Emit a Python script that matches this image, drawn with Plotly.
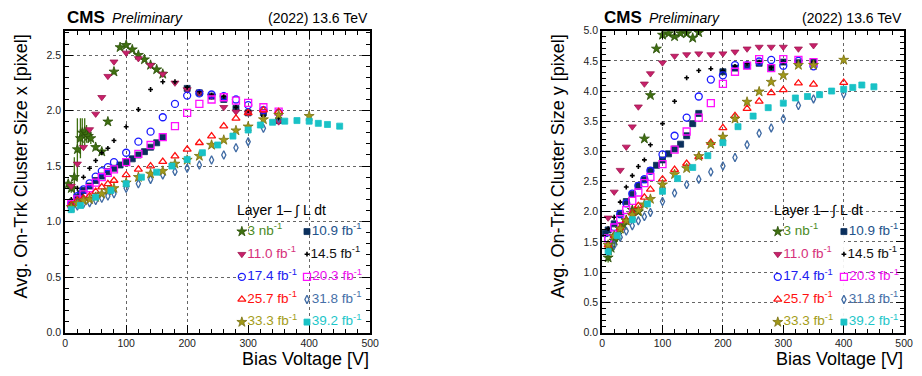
import plotly.graph_objects as go

# ---------------- data ----------------
V_STD = [10, 20, 30, 40, 50, 60, 70, 80, 100, 120, 140, 160, 180, 200, 220, 240, 260, 280, 300, 325, 350]
V_STD400 = V_STD + [400]
V_39 = [10, 25, 50, 75, 100, 125, 150, 175, 200, 225, 250, 275, 300, 320, 340, 360, 380, 400, 415, 430, 450]

# Left panel: cluster size x
V_3NB_X = [5, 10, 15, 20, 25, 28, 32, 35, 38, 42, 50, 60, 70, 80, 90, 100, 110, 120, 130, 140, 150, 160]
SX_3NB = [1.34, 1.30, 1.40, 1.65, 1.75, 1.80, 1.81, 1.79, 1.77, 1.75, 1.67, 1.63, 1.90, 2.35, 2.57, 2.59, 2.55, 2.50, 2.46, 2.41, 2.37, 2.33]
EX_3NB = [0.03, 0.04, 0.18, 0.28, 0.18, 0.13, 0.12, 0.08, 0.06, 0.05, 0.03, 0.03, 0.02, 0.02, 0.02, 0.02, 0.02, 0.02, 0.02, 0.02, 0.02, 0.02]
V_109 = [10, 20, 25, 30, 40, 50, 60, 70, 80, 90, 100, 110, 120, 130, 140, 150, 160, 200, 220, 240, 260, 280, 300, 325, 350]
SX_109 = [1.15, 1.22, 1.25, 1.28, 1.32, 1.37, 1.41, 1.45, 1.48, 1.51, 1.54, 1.565, 1.60, 1.63, 1.67, 1.71, 1.76, 2.20, 2.16, 2.13, 2.10, 2.02, 1.98, 1.98, 1.91]
SX_110 = [1.32, 1.52, 1.67, 1.83, 1.97, 2.12, 2.31, 2.44, 2.52, 2.47, 2.41, 2.33, 2.25, 2.19, 2.16, 2.13, 2.03, 1.99, 1.98, 1.99, 1.90]
SX_145 = [1.20, 1.30, 1.40, 1.48, 1.55, 1.62, 1.66, 1.73, 1.855, 2.01, 2.19, 2.26, 2.26, 2.21, 2.17, 2.14, 2.13, 2.03, 2.00, 1.95, 1.93]
SX_174 = [1.16, 1.23, 1.29, 1.345, 1.405, 1.455, 1.49, 1.535, 1.62, 1.72, 1.81, 1.94, 2.06, 2.135, 2.155, 2.145, 2.13, 2.10, 2.05, 2.005, 1.98]
SX_203 = [1.157, 1.20, 1.245, 1.30, 1.35, 1.40, 1.44, 1.47, 1.535, 1.61, 1.69, 1.76, 1.86, 1.98, 2.06, 2.10, 2.12, 2.09, 2.07, 2.03, 1.99]
SX_257 = [1.15, 1.19, 1.21, 1.23, 1.27, 1.31, 1.34, 1.37, 1.42, 1.47, 1.50, 1.54, 1.59, 1.65, 1.71, 1.77, 1.86, 1.93, 1.98, 2.005, 1.99]
SX_318 = [1.12, 1.14, 1.16, 1.17, 1.19, 1.21, 1.23, 1.25, 1.30, 1.34, 1.38, 1.42, 1.45, 1.48, 1.51, 1.555, 1.60, 1.665, 1.72, 1.84, 1.93]
SX_333 = [1.13, 1.165, 1.19, 1.20, 1.22, 1.25, 1.28, 1.30, 1.35, 1.40, 1.43, 1.455, 1.52, 1.555, 1.59, 1.69, 1.735, 1.82, 1.855, 1.92, 1.96, 1.95]
SX_392 = [1.107, 1.145, 1.22, 1.28, 1.34, 1.40, 1.445, 1.50, 1.56, 1.62, 1.69, 1.77, 1.825, 1.87, 1.895, 1.905, 1.91, 1.905, 1.885, 1.875, 1.86]

# Right panel: cluster size y
V_3NB_Y = [10, 15, 20, 25, 30, 35, 40, 50, 60, 70, 80, 90, 100, 110, 120, 130, 140, 150, 160]
SY_3NB = [1.24, 1.40, 1.52, 1.62, 1.72, 1.78, 1.86, 2.03, 2.00, 3.21, 3.93, 4.70, 4.93, 4.955, 4.905, 4.955, 4.955, 4.88, 4.97]
EY_3NB = [0.08, 0.12, 0.15, 0.12, 0.10, 0.08, 0.05, 0.03, 0.03, 0.03, 0.03, 0.03, 0.03, 0.03, 0.03, 0.03, 0.03, 0.03, 0.03]
V_109Y = [5, 10, 20, 30, 40, 50, 60, 70, 80, 90, 100, 110, 120, 130, 140, 150, 160, 200, 220, 240, 260, 280, 300, 325, 350]
SY_109 = [1.64, 1.70, 1.80, 1.975, 2.17, 2.29, 2.43, 2.53, 2.68, 2.77, 2.86, 2.96, 3.04, 3.12, 3.26, 3.46, 3.63, 4.32, 4.38, 4.42, 4.46, 4.39, 4.48, 4.47, 4.48]
SY_110 = [1.90, 2.33, 2.69, 3.075, 3.41, 3.74, 4.12, 4.29, 4.47, 4.58, 4.605, 4.62, 4.605, 4.62, 4.65, 4.70, 4.73, 4.73, 4.73, 4.70, 4.755]
SY_145 = [1.72, 1.91, 2.16, 2.41, 2.60, 2.75, 2.86, 3.11, 3.46, 3.83, 4.22, 4.34, 4.37, 4.34, 4.41, 4.46, 4.48, 4.39, 4.48, 4.47, 4.48]
SY_174 = [1.55, 1.75, 1.96, 2.14, 2.30, 2.43, 2.54, 2.68, 2.95, 3.26, 3.56, 3.91, 4.19, 4.26, 4.43, 4.43, 4.49, 4.515, 4.42, 4.50, 4.41]
SY_203 = [1.56, 1.74, 1.88, 2.03, 2.18, 2.32, 2.475, 2.58, 2.79, 3.03, 3.33, 3.56, 3.80, 4.12, 4.32, 4.42, 4.53, 4.38, 4.53, 4.515, 4.48]
SY_257 = [1.45, 1.60, 1.73, 1.86, 1.98, 2.10, 2.24, 2.37, 2.54, 2.70, 2.80, 2.91, 3.145, 3.39, 3.59, 3.71, 3.83, 3.97, 4.02, 4.13, 4.11, 4.14]
SY_318 = [1.35, 1.45, 1.58, 1.68, 1.77, 1.85, 1.92, 1.99, 2.17, 2.31, 2.45, 2.54, 2.66, 2.76, 2.90, 3.11, 3.30, 3.39, 3.54, 3.76, 3.87, 3.95]
SY_333 = [1.45, 1.60, 1.72, 1.85, 1.95, 2.02, 2.12, 2.21, 2.45, 2.62, 2.72, 2.92, 3.12, 3.24, 3.54, 3.82, 3.99, 4.15, 4.26, 4.43, 4.43, 4.515]
SY_392 = [1.34, 1.605, 1.87, 2.13, 2.34, 2.55, 2.735, 2.93, 3.145, 3.41, 3.585, 3.725, 3.80, 3.885, 3.91, 3.94, 4.00, 4.03, 4.06, 4.10, 4.07]

# legend layout: 2 columns x 5 rows (keys in reading order)
LEG_COL1 = ["3 nb", "11.0 fb", "17.4 fb", "25.7 fb", "33.3 fb"]
LEG_COL2 = ["10.9 fb", "14.5 fb", "20.3 fb", "31.8 fb", "39.2 fb"]
LEG_TITLE = "Layer 1– ∫ L dt"

# ---------------- styles ----------------
FONT = "Liberation Sans, Arial, Helvetica, sans-serif"
STYLE = {
    "3 nb":    dict(symbol="star", color="#3f7010", line="#2a4f08", lw=0.8, size=7.5, tcol="#4a8a1e"),
    "10.9 fb": dict(symbol="square", color="#0a2f5c", line="#0a2f5c", lw=0.8, size=6, tcol="#23538a"),
    "11.0 fb": dict(symbol="triangle-down", color="#c8206a", line="#a01850", lw=0.8, size=7, tcol="#d6307a"),
    "14.5 fb": dict(symbol="cross", color="#000000", line="#000000", lw=0, size=4, tcol="#111111"),
    "17.4 fb": dict(symbol="circle-open", color="#1a1aff", line="#1a1aff", lw=1.3, size=7, tcol="#2020f0"),
    "20.3 fb": dict(symbol="square-open", color="#ff10ff", line="#ff10ff", lw=1.3, size=7, tcol="#ee10ee"),
    "25.7 fb": dict(symbol="triangle-up-open", color="#ff1010", line="#ff1010", lw=1.3, size=7, tcol="#ff1010"),
    "31.8 fb": dict(symbol="diamond-tall-open", color="#3f6aa3", line="#3f6aa3", lw=1.3, size=6, tcol="#4670a8"),
    "33.3 fb": dict(symbol="star", color="#a09818", line="#787010", lw=0.8, size=7.5, tcol="#a49c18"),
    "39.2 fb": dict(symbol="square", color="#19c2c6", line="#19c2c6", lw=0.8, size=6, tcol="#1ec6c9"),
}

left_series = [
    ("3 nb", V_3NB_X, SX_3NB, EX_3NB),
    ("10.9 fb", V_109, SX_109, None),
    ("11.0 fb", V_STD, SX_110, None),
    ("14.5 fb", V_STD, SX_145, None),
    ("17.4 fb", V_STD, SX_174, None),
    ("20.3 fb", V_STD, SX_203, None),
    ("25.7 fb", V_STD, SX_257, None),
    ("31.8 fb", V_STD, SX_318, None),
    ("33.3 fb", V_STD400, SX_333, None),
    ("39.2 fb", V_39, SX_392, None),
]
right_series = [
    ("3 nb", V_3NB_Y, SY_3NB, EY_3NB),
    ("10.9 fb", V_109Y, SY_109, None),
    ("11.0 fb", V_STD, SY_110, None),
    ("14.5 fb", V_STD, SY_145, None),
    ("17.4 fb", V_STD, SY_174, None),
    ("20.3 fb", V_STD, SY_203, None),
    ("25.7 fb", V_STD400, SY_257, None),
    ("31.8 fb", V_STD400, SY_318, None),
    ("33.3 fb", V_STD400, SY_333, None),
    ("39.2 fb", V_39, SY_392, None),
]

W, H = 922, 376
fig = go.Figure()


def label_html(key):
    unit = "nb" if key.endswith("nb") else "fb"
    num = key.split(" ")[0]
    return f"{num} {unit}<sup>-1</sup>"


def marker_for(keys):
    return dict(symbol=[STYLE[k]["symbol"] for k in keys],
                color=[STYLE[k]["color"] for k in keys],
                size=[STYLE[k]["size"] for k in keys], opacity=1,
                line=dict(width=[STYLE[k]["lw"] for k in keys], color=[STYLE[k]["line"] for k in keys]))


def add_panel(series, xa, ya):
    for key, xs, ys, err in series:
        tr = go.Scatter(
            x=xs, y=ys, mode="markers", name=label_html(key).replace("<sup>-1</sup>", "⁻¹"),
            marker=marker_for([key] * len(xs)), xaxis=xa, yaxis=ya, showlegend=False,
        )
        if err is not None:
            tr.error_y = dict(type="data", array=err, color=STYLE[key]["color"], thickness=1.3, width=0)
        fig.add_trace(tr)


def add_legend_keys(xa, ya):
    # one key column per trace; positions come from column / row index on an auxiliary axis
    for col, keys in enumerate([LEG_COL1, LEG_COL2]):
        fig.add_trace(go.Scatter(
            x=[col] * len(keys), y=list(range(len(keys))), mode="markers+text",
            text=[label_html(k) for k in keys], textposition="middle right",
            textfont=dict(family=FONT, size=13.5, color=[STYLE[k]["tcol"] for k in keys]),
            marker=marker_for(keys), xaxis=xa, yaxis=ya, showlegend=False,
            cliponaxis=False, hoverinfo="skip",
        ))


add_panel(left_series, "x", "y")
add_panel(right_series, "x2", "y2")
add_legend_keys("x3", "y3")
add_legend_keys("x4", "y4")

y_bot = 1 - 337.3 / H
y_top = 1 - 25.5 / H

axis_common = dict(
    showline=True, linewidth=2, linecolor="black", mirror="ticks",
    ticks="inside", ticklen=8, tickwidth=1, tickcolor="black",
    showgrid=True, gridcolor="#666666", griddash="dot", gridwidth=1,
    zeroline=False,
    tickfont=dict(family=FONT, size=10.5, color="#222222"),
)

xaxis_common = dict(axis_common, range=[0, 500], tick0=0, dtick=100,
                    minor=dict(dtick=20, ticklen=4, ticks="inside", tickcolor="black", showgrid=False))

leg_row_dom = [1 - 326.5 / H, 1 - 233 / H]
aux = dict(visible=False, fixedrange=True)

fig.update_layout(
    width=W, height=H,
    margin=dict(l=0, r=0, t=0, b=0),
    paper_bgcolor="white", plot_bgcolor="white",
    font=dict(family=FONT, color="black"),
    xaxis=dict(xaxis_common, domain=[63 / W, 372 / W], anchor="y"),
    yaxis=dict(axis_common, domain=[y_bot, y_top], anchor="x", range=[0, 2.72], tick0=0, dtick=0.5,
               tickformat=".1f",
               minor=dict(dtick=0.1, ticklen=4, ticks="inside", tickcolor="black", showgrid=False)),
    xaxis2=dict(xaxis_common, domain=[607 / W, 913 / W], anchor="y2"),
    yaxis2=dict(axis_common, domain=[y_bot, y_top], anchor="x2", range=[0, 5.0], tick0=0, dtick=0.5,
                tickformat=".1f",
                minor=dict(dtick=0.1, ticklen=4, ticks="inside", tickcolor="black", showgrid=False)),
    xaxis3=dict(aux, domain=[242 / W, 308 / W], range=[0, 1], anchor="y3"),
    yaxis3=dict(aux, domain=leg_row_dom, range=[4, 0], anchor="x3"),
    xaxis4=dict(aux, domain=[785 / W, 852 / W], range=[0, 1], anchor="y4"),
    yaxis4=dict(aux, domain=leg_row_dom, range=[4, 0], anchor="x4"),
    showlegend=False,
)

ann = []


def header(x0, x1):
    ann.append(dict(x=x0 / W, y=1 - 12 / H, xref="paper", yref="paper", xanchor="left", yanchor="middle",
                    text="<b>CMS</b>", showarrow=False, font=dict(family=FONT, size=17, color="black")))
    ann.append(dict(x=(x0 + 45) / W, y=1 - 12.5 / H, xref="paper", yref="paper", xanchor="left", yanchor="middle",
                    text="<i>Preliminary</i>", showarrow=False, font=dict(family=FONT, size=14, color="black")))
    ann.append(dict(x=x1 / W, y=1 - 12.5 / H, xref="paper", yref="paper", xanchor="right", yanchor="middle",
                    text="(2022) 13.6 TeV", showarrow=False, font=dict(family=FONT, size=14, color="black")))


header(63, 372)
header(607, 913)

for xr in (372, 913):
    ann.append(dict(x=xr / W, y=1 - 364.5 / H, xref="paper", yref="paper", xanchor="right", yanchor="middle",
                    text="Bias Voltage [V]", showarrow=False, borderpad=0,
                    font=dict(family=FONT, size=18, color="black")))

ann.append(dict(x=18 / W, y=y_top - 2 / H, xref="paper", yref="paper", xanchor="center", yanchor="top",
                textangle=-90, text="Avg. On-Trk Cluster Size x [pixel]", showarrow=False,
                font=dict(family=FONT, size=18, color="black")))
ann.append(dict(x=562 / W, y=y_top - 2 / H, xref="paper", yref="paper", xanchor="center", yanchor="top",
                textangle=-90, text="Avg. On-Trk Cluster Size y [pixel]", showarrow=False,
                font=dict(family=FONT, size=18, color="black")))

for x0 in (235, 779):
    ann.append(dict(x=x0 / W, y=1 - 211 / H, xref="paper", yref="paper", xanchor="left", yanchor="middle",
                    text=LEG_TITLE, showarrow=False, font=dict(family=FONT, size=14, color="black")))

fig.update_layout(annotations=ann)

fig.write_html("out.html")
